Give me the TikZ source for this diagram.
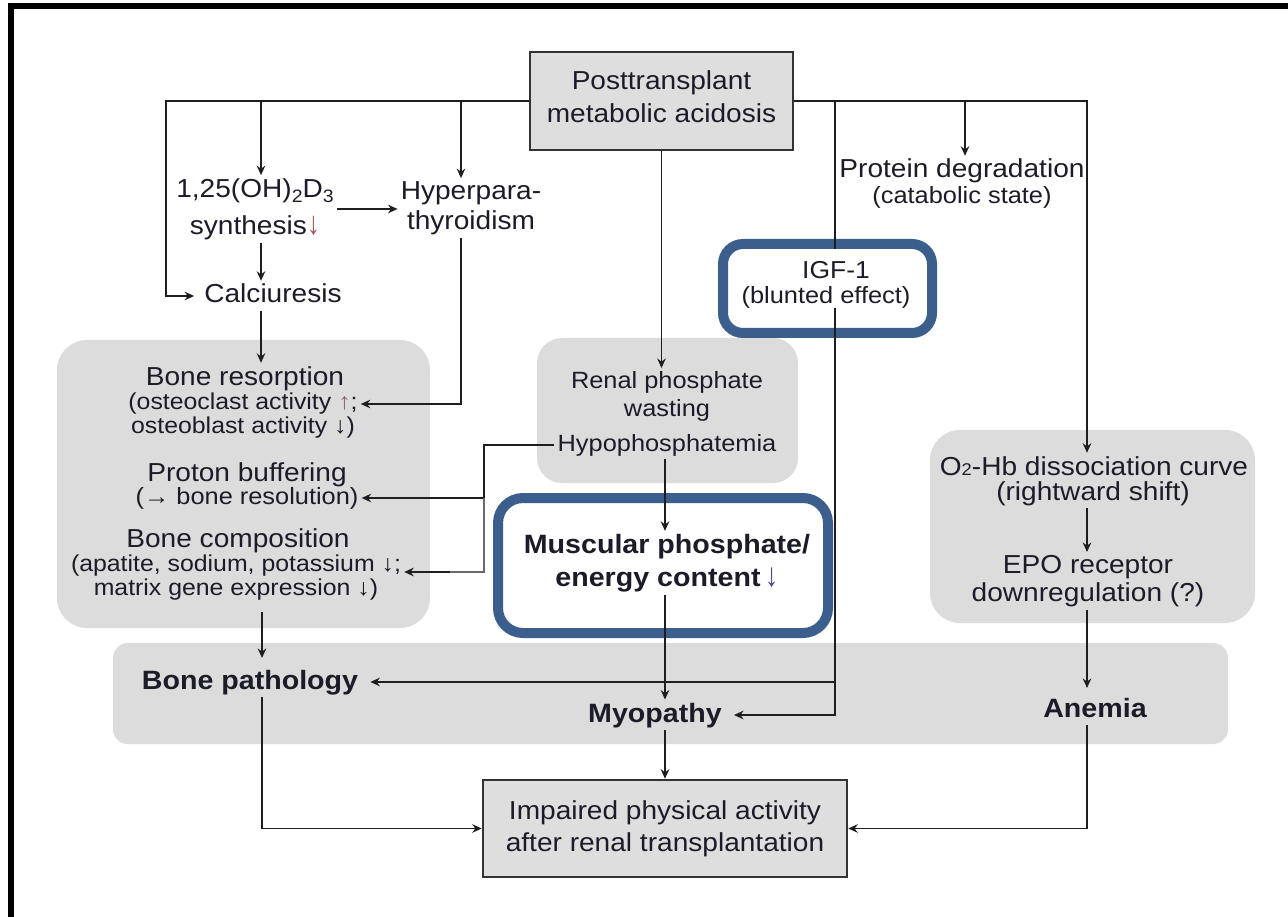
\documentclass[tikz,border=0pt]{standalone}
\usepackage{graphicx}
\usepackage{fontspec}
\setmainfont{Liberation Sans}[FakeStretch=1.08]
\usetikzlibrary{arrows.meta}
\definecolor{txt}{HTML}{1C1C28}
\definecolor{linec}{HTML}{1E1E1E}
\definecolor{linegray}{HTML}{6A6A6A}
\definecolor{zone}{HTML}{DCDCDC}
\definecolor{boxfill}{HTML}{DEDEDE}
\definecolor{boxline}{HTML}{333333}
\definecolor{bluec}{HTML}{3B5E8C}
\definecolor{arrred}{HTML}{A85A5A}
\definecolor{arrpale}{HTML}{8A6A70}
\definecolor{arrblue}{HTML}{4A4A90}
\newcommand\lowsub[1]{\raisebox{-5pt}{\fontsize{18}{18}\selectfont #1}}
\newcommand\tallarr[1]{\smash{\scalebox{0.95}[1.25]{#1}}}
\begin{document}
\begin{tikzpicture}[x=1pt,y=-1pt,
  conn/.style={line width=1.8pt, draw=linec},
  arr/.style={conn, -{Stealth[length=9.5pt,width=8.5pt]}},
  one/.style={text=txt, inner sep=3pt},
  mainT/.style={one, font=\fontsize{26}{30}\selectfont, text height=19pt, text depth=5pt},
  subT/.style={one, font=\fontsize{23.5}{24}\selectfont, text height=17pt, text depth=4.5pt},
  boldT/.style={one, font=\bfseries\fontsize{26.5}{30}\selectfont, text height=19.5pt, text depth=5pt},
  multi/.style={text=txt, inner sep=3pt, align=center},
  submulti/.style={multi, font=\fontsize{23}{24}\selectfont},
  zonebox/.style={fill=zone, draw=none, rounded corners=30pt},
  graybox/.style={draw=boxline, line width=2.5pt, fill=boxfill},
  bluebox/.style={draw=bluec, line width=10pt, fill=white, rounded corners=20pt},
]
\useasboundingbox (0,0) rectangle (1288,917);
\fill[white] (0,0) rectangle (1288,917);
\draw[line width=5.5pt, black, line join=miter] (11,917) -- (11,5.8) -- (1288,5.8);

% grey zones
\node[zonebox, minimum width=373pt, minimum height=288pt] (leftzone) at (243.5,484) {};
\node[zonebox, rounded corners=25pt, minimum width=261pt, minimum height=145pt] (midzone) at (667.5,410.5) {};
\node[zonebox, minimum width=325pt, minimum height=193pt] (rightzone) at (1092.5,526.5) {};
\node[zonebox, rounded corners=15pt, minimum width=1115pt, minimum height=101pt] (band) at (670.5,693.5) {};

% boxes
\node[graybox, minimum width=263pt, minimum height=98pt] (top) at (661.5,101) {};
\node[graybox, minimum width=364pt, minimum height=97pt] (imp) at (665,828.5) {};
\node[bluebox, minimum width=209pt, minimum height=89pt] (igfbox) at (827.5,288.5) {};
\node[bluebox, rounded corners=25pt, minimum width=330pt, minimum height=135pt] (muscbox) at (663,565.5) {};

% texts
\node[multi, font=\fontsize{26}{33}\selectfont] (toptext) at (661.5,97) {Posttransplant\\metabolic acidosis};
\node[multi, font=\fontsize{26}{37}\selectfont] (d3) at (255,209) {1,25(OH)\lowsub{2}D\lowsub{3}\\synthesis\textcolor{arrred}{\tallarr{↓}}};
\node[multi, font=\fontsize{26}{30}\selectfont] (hyp) at (471,208) {Hyperpara-\\thyroidism};
\node[mainT] (calc) at (273,296) {Calciuresis};
\node[mainT] (bres) at (245,378) {Bone resorption};
\node[submulti] (bresS) at (243,416) {(osteoclast activity \textcolor{arrpale}{↑};\\osteoblast activity ↓)};
\node[mainT] (prot) at (247,474) {Proton buffering};
\node[subT] (protS) at (247,498) {(→ bone resolution)};
\node[mainT] (bcomp) at (238,540) {Bone composition};
\node[submulti] (bcompS) at (236,578) {(apatite, sodium, potassium ↓;\\matrix gene expression ↓)};
\node[subT] (renalA) at (667,382) {Renal phosphate};
\node[subT] (renalB) at (667,410) {wasting};
\node[subT] (hypo) at (667,445) {Hypophosphatemia};
\node[multi, font=\bfseries\fontsize{26.5}{33}\selectfont] (musc) at (667,563) {Muscular phosphate/\\energy content\,\textcolor{arrblue}{\mdseries\tallarr{↓}}};
\node[mainT] (prdeg) at (962,171) {Protein degradation};
\node[subT] (prdegS) at (962,197) {(catabolic state)};
\node[mainT] (o2) at (1094,468) {O{\fontsize{17}{17}\selectfont 2}-Hb dissociation curve};
\node[mainT] (o2S) at (1093,493) {(rightward shift)};
\node[multi, font=\fontsize{26}{28}\selectfont] (epo) at (1088,581) {EPO receptor\\downregulation (?)};
\node[boldT] (bpath) at (250,682) {Bone pathology};
\node[boldT] (myo) at (655,715) {Myopathy};
\node[boldT] (anem) at (1095,710) {Anemia};
\node[multi, font=\fontsize{26}{32}\selectfont] (imptext) at (665,829) {Impaired physical activity\\after renal transplantation};

% entry points on the first line of two-line texts
\coordinate (bresin) at ([yshift=12pt]bresS.east);
\coordinate (bcin) at ([yshift=6pt]bcompS.east);

% connectors
\draw[arr] (top.west) -- (166,101) |- ([xshift=-7pt]calc.west);
\draw[arr] (261,101) -- (261,0 |- d3.north);
\draw[arr] (461,101) -- (461,0 |- hyp.north);
\draw[arr] (d3.east) -- (d3.east -| hyp.west);
\draw[arr] (261,0 |- d3.south) -- (261,0 |- calc.north);
\draw[arr] (261,0 |- calc.south) -- (261,0 |- bres.north);
\draw[arr] (461,0 |- hyp.south) |- (bresin);
\draw[conn] (hypo.west) -| (484,0 |- protS.east);
\draw[arr] (484,0 |- protS.east) -- (protS.east);
\draw[conn, draw=linegray] (484,0 |- protS.east) -- (484,0 |- bcin) -- (450,0 |- bcin);
\draw[arr] (450,0 |- bcin) -- (bcin);
\draw[arr] (top.south) -- (top.south |- renalA.north);
\draw[arr] (665,0 |- hypo.south) -- (665,0 |- musc.north);
\draw[arr] (665,0 |- musc.south) -- (665,0 |- myo.north);
\draw[arr] (665,0 |- myo.south) -- (665,0 |- imp.north);
\draw[arr] (top.east) -| (1087,0 |- o2.north);
\draw[arr] (965,101) -- (965,0 |- prdeg.north);
\draw[arr] (1087,0 |- o2S.south) -- (1087,0 |- epo.north);
\draw[arr] (1087,0 |- epo.south) -- (1087,688);
\draw[arr] (1087,0 |- anem.south) |- (imp.east);
\draw[arr] (835,101) |- ([xshift=9pt]myo.east);
\draw[arr] (835,0 |- bpath.east) -- ([xshift=9pt]bpath.east);
\draw[arr] (262,612) -- (262,658);
\draw[arr] (262,0 |- bpath.south) |- (imp.west);

% IGF-1 text over the line
\fill[white] (830,249) rectangle (840,308);
\node[one, font=\fontsize{24.5}{26}\selectfont, text height=18pt, text depth=5pt] (igf) at (836,272) {IGF-1};
\node[subT] (igfS) at (826,297) {(blunted effect)};
\end{tikzpicture}
\end{document}
